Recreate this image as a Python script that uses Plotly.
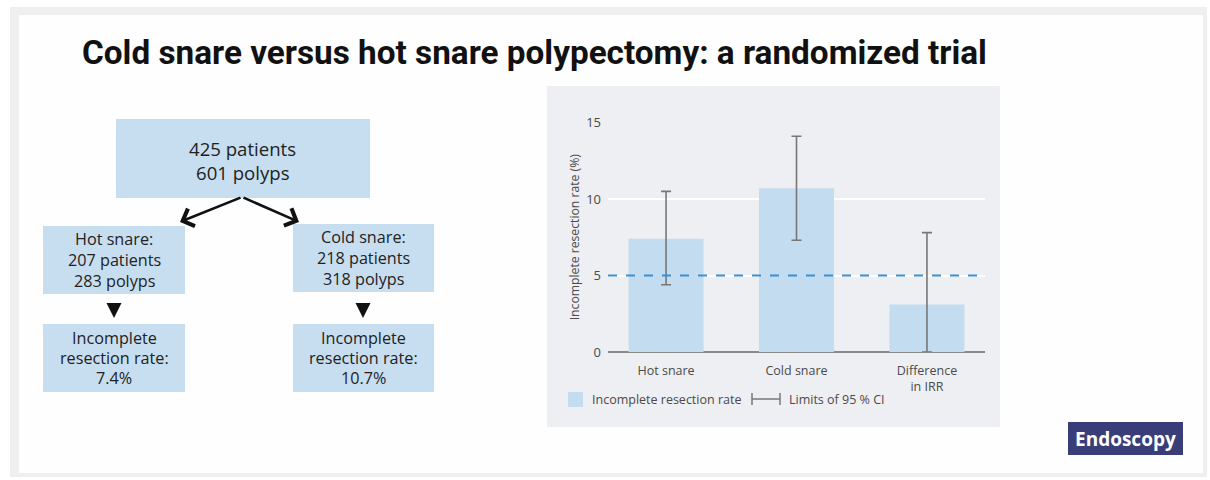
import plotly.graph_objects as go

# ---- data ----
categories = ["Hot snare", "Cold snare", "Difference<br>in IRR"]
irr_values = [7.4, 10.7, 3.1]
ci_upper = [10.5, 14.1, 7.8]
ci_lower = [4.4, 7.3, 0.0]
threshold = 5
y_ticks = [0, 5, 10, 15]

W, H = 1210, 480


def px(x, y):
    return x / W, 1 - y / H


err_plus = [u - v for u, v in zip(ci_upper, irr_values)]
err_minus = [v - l for v, l in zip(irr_values, ci_lower)]

BOX = "rgb(199,222,241)"
BAR = "rgb(195,220,240)"
FONT = "Open Sans"
TXT = "#222222"
AX = "#4a4a4a"

fig = go.Figure()
fig.add_trace(go.Bar(
    x=categories, y=irr_values, width=0.575, marker_color=BAR,
    marker_line_width=0,
    error_y=dict(type="data", symmetric=False, array=err_plus, arrayminus=err_minus,
                 color="#777777", thickness=1.6, width=5),
    hoverinfo="skip", showlegend=False,
))

shapes = []
annotations = []


def rect(xa, ya, xb, yb, color, layer="below"):
    a0, b1 = px(xa, ya)
    a1, b0 = px(xb, yb)
    shapes.append(dict(type="rect", xref="paper", yref="paper", x0=a0, y0=b0, x1=a1, y1=b1,
                       fillcolor=color, line_width=0, layer=layer))


def text(x, y, s, size, color=TXT, anchor="center", family=FONT):
    a, b = px(x, y)
    annotations.append(dict(xref="paper", yref="paper", x=a, y=b, text=s, showarrow=False,
                            xanchor=anchor, yanchor="middle",
                            font=dict(family=family, size=size, color=color)))


# outer frame (soft grey border)
rect(10, 7, 1207, 477, "#efefef")
rect(19, 15, 1203, 473, "#fefefe")
# chart panel
rect(547, 86, 1000, 427, "#eeeff3")

# threshold line
shapes.append(dict(type="line", xref="x domain", yref="y", x0=0, x1=1, y0=threshold, y1=threshold,
                   line=dict(color="#3d8fd1", width=2, dash="dash"), layer="above"))

# flowchart boxes
rect(116, 119, 370, 198, BOX, "above")
text(243, 148, "425 patients", 18.6)
text(243, 172, "601 polyps", 18.6)

rect(43, 226, 185, 294, BOX, "above")
for yy, s in zip([239, 260, 281], ["Hot snare:", "207 patients", "283 polyps"]):
    text(114, yy, s, 16.2)
rect(293, 224, 434, 292, BOX, "above")
for yy, s in zip([237, 258, 279], ["Cold snare:", "218 patients", "318 polyps"]):
    text(363.5, yy, s, 16.2)
rect(43, 324, 185, 392, BOX, "above")
for yy, s in zip([338, 358, 378], ["Incomplete", "resection rate:", "7.4%"]):
    text(114, yy, s, 16.2)
rect(293, 324, 434, 392, BOX, "above")
for yy, s in zip([338, 358, 378], ["Incomplete", "resection rate:", "10.7%"]):
    text(363.5, yy, s, 16.2)


def arrow(xa, ya, xb, yb, head=4, size=1.0, width=2.6):
    bx, by = px(xb, yb)
    annotations.append(dict(xref="paper", yref="paper", axref="pixel", ayref="pixel",
                            x=bx, y=by, ax=xa - xb, ay=ya - yb, text="", showarrow=True,
                            arrowhead=head, arrowsize=size, arrowwidth=width, arrowcolor="#111111",
                            standoff=0, startstandoff=0))


arrow(242, 197, 180, 222, head=4, size=1.4, width=2.6)
arrow(242, 197, 299, 222, head=4, size=1.4, width=2.6)
arrow(114, 302, 114, 318, head=2, size=1.0, width=3.0)
arrow(363, 302, 363, 318, head=2, size=1.0, width=3.0)

# title
text(80, 52, "<b>Cold snare versus hot snare polypectomy: a randomized trial</b>", 33.3,
     color="#111111", anchor="left", family="Roboto")

# legend
rect(568, 392, 583, 407, BAR, "above")
text(590, 399, "Incomplete resection rate", 12.5, color=AX, anchor="left")
for (xa, ya, xb, yb) in [(752, 399, 780, 399), (752, 393, 752, 405), (780, 393, 780, 405)]:
    a0, b0 = px(xa, ya)
    a1, b1 = px(xb, yb)
    shapes.append(dict(type="line", xref="paper", yref="paper", x0=a0, y0=b0, x1=a1, y1=b1,
                       line=dict(color="#777777", width=1.5)))
text(787, 399, "Limits of 95 % CI", 12.5, color=AX, anchor="left")

# Endoscopy logo
rect(1068, 422, 1183, 455, "#3a3e78", "above")
text(1125.5, 438.5, "<b>Endoscopy</b>", 19, color="white")

xd0 = 608 / W
xd1 = 985 / W
yd0 = 1 - 352 / H
yd1 = 1 - 122.5 / H

fig.update_layout(
    width=W, height=H, margin=dict(l=0, r=0, t=0, b=0, pad=0, autoexpand=False),
    paper_bgcolor="white", plot_bgcolor="rgba(0,0,0,0)",
    shapes=shapes, annotations=annotations,
    showlegend=False,
    xaxis=dict(domain=[xd0, xd1], range=[-0.445, 2.445], showgrid=False, zeroline=False,
               showline=False, ticks="", automargin=False, ticklabelstandoff=9,
               tickfont=dict(family=FONT, size=12.5, color=AX), fixedrange=True),
    yaxis=dict(domain=[yd0, yd1], range=[0, 15], tickvals=y_ticks, showgrid=True,
               gridcolor="white", gridwidth=1.5, zeroline=True, zerolinecolor="#8a8a8a",
               zerolinewidth=1.5, ticks="", ticklabelstandoff=6, automargin=False,
               tickfont=dict(family=FONT, size=13, color=AX),
               title=dict(text="Incomplete resection rate (%)", standoff=3,
                          font=dict(family=FONT, size=12.2, color=AX)),
               fixedrange=True),
)

fig.write_html("out.html", config={"displayModeBar": False},
               post_script="document.body.style.margin='0px';")
